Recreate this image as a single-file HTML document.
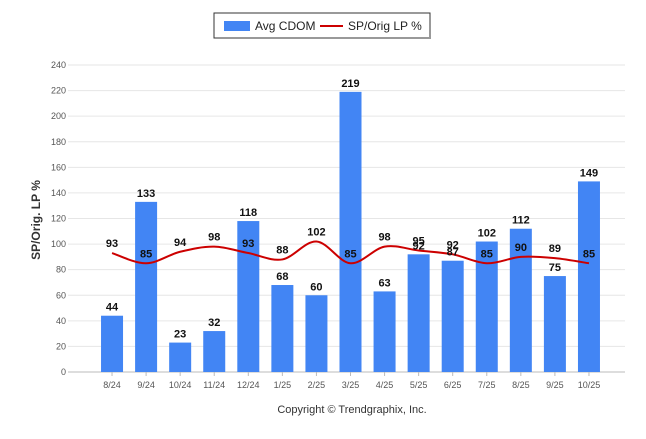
<!DOCTYPE html>
<html><head><meta charset="utf-8"><style>
body{margin:0;background:#fff;font-family:"Liberation Sans",sans-serif;}
svg text{font-family:"Liberation Sans",sans-serif;}
</style></head><body>
<svg id="c" width="646" height="434">
<g>
<rect x="214" y="13" width="216" height="25" fill="#fff" stroke="#333" stroke-width="1"/>
<rect x="215" y="37" width="216" height="2" fill="#999"/>
<rect x="224" y="21" width="26" height="10" fill="#4285f4"/>
<text x="255" y="30" font-size="12" fill="#222">Avg CDOM</text>
<line x1="320" y1="26" x2="343" y2="26" stroke="#c00" stroke-width="2"/>
<text x="348" y="30" font-size="12" fill="#222">SP/Orig LP %</text>
</g>
<text transform="translate(40,220) rotate(-90)" text-anchor="middle" font-size="12" font-weight="bold" fill="#333">SP/Orig. LP %</text>
<text x="352" y="413" text-anchor="middle" font-size="11" fill="#333">Copyright © Trendgraphix, Inc.</text>
</svg>
<script>
const categories=["8/24","9/24","10/24","11/24","12/24","1/25","2/25","3/25","4/25","5/25","6/25","7/25","8/25","9/25","10/25"];
const cdom=[44,133,23,32,118,68,60,219,63,92,87,102,112,75,149];
const spPct=[93,85,94,98,93,88,102,85,98,95,92,85,90,89,85];
const yTicks=[0,20,40,60,80,100,120,140,160,180,200,220,240];
const svg=document.getElementById('c');const NS='http://www.w3.org/2000/svg';
const G0=68,G1=625,X0=95,X1=606,Y0=372,Y1=65,MAX=240;
const step=(X1-X0)/categories.length;
const xs=i=>X0+step*(i+0.5);
const ys=v=>Y0-(v/MAX)*(Y0-Y1);
function mk(t,a,txt){const e=document.createElementNS(NS,t);for(const k in a)e.setAttribute(k,a[k]);if(txt!==undefined)e.textContent=txt;svg.appendChild(e);return e;}
yTicks.forEach(v=>{
const g=mk('line',{x1:G0,x2:G1,y1:ys(v),y2:ys(v),stroke:v===0?'#bbb':'#e6e6e6'});


const t=mk('text',{x:G0-2,y:ys(v)+3,'text-anchor':'end','font-size':9,fill:'#555'},v);


});
categories.forEach((c,i)=>{
const tk=mk('line',{x1:xs(i),x2:xs(i),y1:Y0,y2:Y0+4,stroke:'#bbb'});


const t=mk('text',{x:xs(i),y:Y0+16,'text-anchor':'middle','font-size':9,fill:'#555'},c);


});
const bw=22;
cdom.forEach((v,i)=>{
const r=mk('rect',{x:xs(i)-bw/2,y:ys(v),width:bw,height:Y0-ys(v),fill:'#4285f4'});


});
const pts=spPct.map((v,i)=>[xs(i),ys(v)]);
let d='M'+pts[0][0]+','+pts[0][1];
for(let i=0;i<pts.length-1;i++){const p0=pts[Math.max(0,i-1)],p1=pts[i],p2=pts[i+1],p3=pts[Math.min(pts.length-1,i+2)];
const c1=[p1[0]+(p2[0]-p0[0])/6,p1[1]+(p2[1]-p0[1])/6],c2=[p2[0]-(p3[0]-p1[0])/6,p2[1]-(p3[1]-p1[1])/6];
d+=` C${c1[0]},${c1[1]} ${c2[0]},${c2[1]} ${p2[0]},${p2[1]}`;}
const ln=mk('path',{d:d,fill:'none',stroke:'#c00','stroke-width':2});


cdom.forEach((v,i)=>{
const t=mk('text',{x:xs(i),y:ys(v)-5,'text-anchor':'middle','font-size':11,'font-weight':'bold',fill:'#111'},v);


});
spPct.forEach((v,i)=>{
const t=mk('text',{x:xs(i),y:ys(v)-6,'text-anchor':'middle','font-size':11,'font-weight':'bold',fill:'#111'},v);


});
</script>
</body></html>
